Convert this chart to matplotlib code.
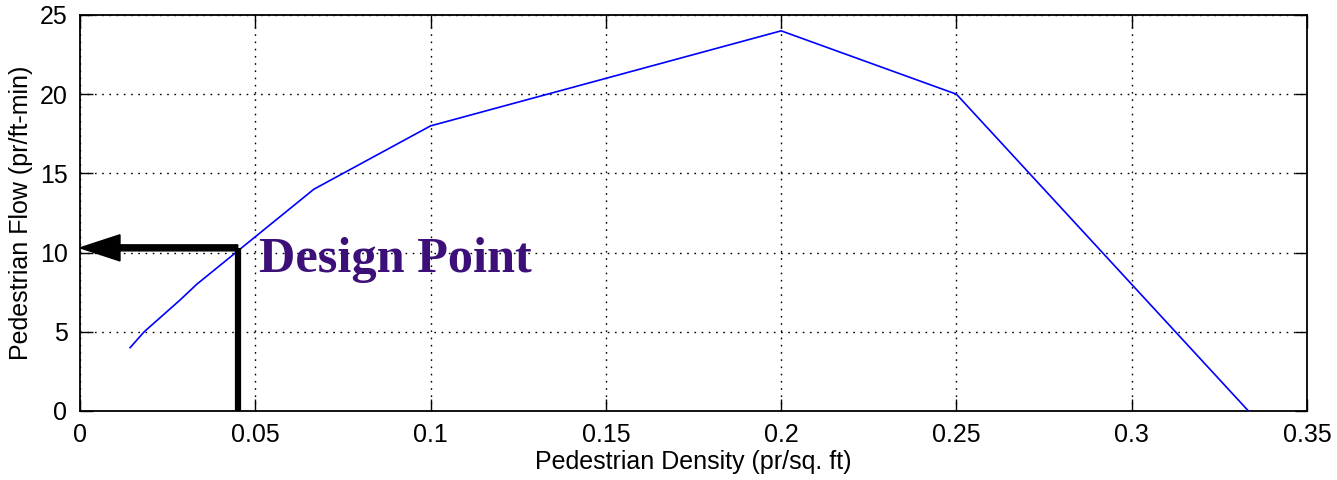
import matplotlib
matplotlib.use("agg")
import matplotlib.pyplot as plt

# speed-flow curve (pedestrian density vs. flow)
density = [0.0143, 0.0183, 0.0285, 0.0333, 0.0667, 0.1, 0.2, 0.25, 0.3333]
flow = [4, 5, 7, 8, 14, 18, 24, 20, 0]

design_density = 0.045
design_flow = 10.3

x_ticks = [0, 0.05, 0.1, 0.15, 0.2, 0.25, 0.3, 0.35]
x_tick_labels = ["0", "0.05", "0.1", "0.15", "0.2", "0.25", "0.3", "0.35"]
y_ticks = [0, 5, 10, 15, 20, 25]

plt.rcParams.update({
    "font.family": ["Liberation Sans", "DejaVu Sans"],
    "font.size": 18,
})

fig = plt.figure(figsize=(13.37, 4.8), dpi=100, facecolor="w")
ax = fig.add_axes([80 / 1337, 69 / 480, 1227 / 1337, 396 / 480])

ax.plot(density, flow, color="#0000ff", lw=1.2, zorder=3)

# design point marker: vertical line up from the axis, arrow back to the y axis
ax.plot([design_density, design_density], [0, design_flow], color="k", lw=4.5,
        solid_capstyle="butt", zorder=4)
ax.arrow(design_density, design_flow, -design_density, 0, width=0.38,
         head_width=1.65, head_length=0.0114, length_includes_head=True,
         fc="k", ec="k", zorder=4)
ax.text(design_density + 0.0061, design_flow - 1.55, "Design Point",
        family=["Liberation Serif", "DejaVu Serif"], fontweight="bold",
        fontsize=36.3, color="#3c1078", zorder=5)

ax.set_xlim(0, 0.35)
ax.set_ylim(0, 25)
ax.set_xticks(x_ticks)
ax.set_xticklabels(x_tick_labels)
ax.set_yticks(y_ticks)
ax.grid(True, color="k", linestyle=(0, (1.2, 4)), lw=1.0)
ax.tick_params(axis="both", direction="in", length=9, width=1, top=True, right=True,
               labelsize=18)
ax.tick_params(axis="x", pad=9)
ax.tick_params(axis="y", pad=9)
for s in ax.spines.values():
    s.set_linewidth(1.3)

ax.set_xlabel("Pedestrian Density (pr/sq. ft)", fontsize=18, labelpad=2)
ax.set_ylabel("Pedestrian Flow (pr/ft-min)", fontsize=18, labelpad=5)

plt.savefig("out.png", dpi=100)
